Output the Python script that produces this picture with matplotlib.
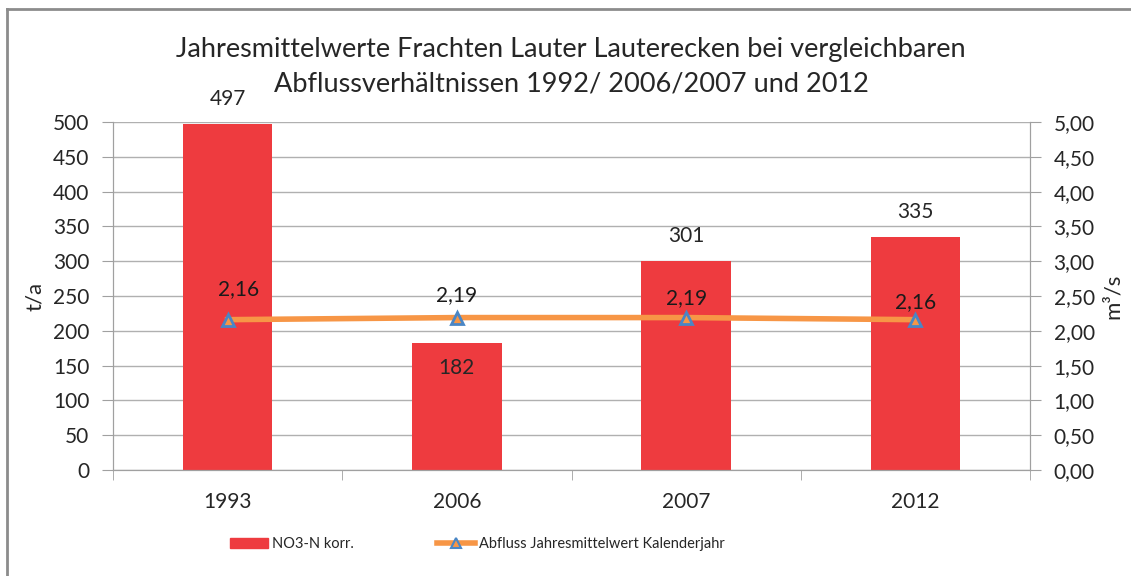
import matplotlib.pyplot as plt
from matplotlib.lines import Line2D
import numpy as np

plt.rcParams['font.family'] = ['Lato', 'DejaVu Sans']

# data
jahre = ["1993", "2006", "2007", "2012"]
no3_n = [497, 182, 301, 335]
abfluss = [2.16, 2.19, 2.19, 2.16]
titel = ["Jahresmittelwerte Frachten Lauter Lauterecken bei vergleichbaren",
         "Abflussverhältnissen 1992/ 2006/2007 und 2012"]

bar_color = "#EE3B3F"
line_color = "#F79646"
marker_edge = "#4A86C5"
text_color = "#262626"

fig = plt.figure(figsize=(11.31, 5.76), dpi=100)
ax = fig.add_axes([113 / 1131, 1 - 470 / 576, (1030 - 113) / 1131, (470 - 122) / 576])
ax2 = ax.twinx()

x = np.arange(len(jahre))
ax.bar(x, no3_n, width=0.39, color=bar_color, zorder=2)
ax.set_xlim(-0.5, len(jahre) - 0.5)
ax.set_ylim(0, 500)
ax.set_yticks(np.arange(0, 501, 50))
ax.yaxis.grid(True, color="#B0B0B0", linewidth=1.0, zorder=0)
ax.set_axisbelow(True)

# x-Ticks zwischen den Kategorien
ax.set_xticks(x)
ax.set_xticklabels(jahre)
ax.set_xticks(np.arange(-0.5, len(jahre), 1), minor=True)
ax.tick_params(axis="x", which="major", length=0, pad=16, labelsize=15, labelcolor=text_color)
ax.tick_params(axis="x", which="minor", length=7, color="#A0A0A0", direction="out")
ax.tick_params(axis="y", length=8, color="#A0A0A0", labelsize=15, labelcolor=text_color, pad=9)

ax2.plot(x, abfluss, color=line_color, linewidth=4, zorder=3,
         marker="^", markersize=9, markerfacecolor=line_color,
         markeredgecolor=marker_edge, markeredgewidth=2)
ax2.set_ylim(0, 5)
ax2.set_yticks(np.arange(0, 5.01, 0.5))
ax2.set_yticklabels([f"{v:.2f}".replace(".", ",") for v in np.arange(0, 5.01, 0.5)])
ax2.tick_params(axis="y", length=8, color="#A0A0A0", labelsize=15, labelcolor=text_color, pad=9)

for a in (ax, ax2):
    a.spines["top"].set_visible(False)
    a.spines["left"].set_color("#A0A0A0")
    a.spines["right"].set_color("#A0A0A0")
    a.spines["bottom"].set_color("#A0A0A0")

ax.set_ylabel("t/a", fontsize=16, color=text_color, labelpad=6)
ax2.set_ylabel("m³/s", fontsize=16, color=text_color, labelpad=6)

# Beschriftungen Balken
for xi, v in zip(x, no3_n):
    dy = -18 if v < 200 else 18
    ax.annotate(str(v), xy=(xi, v), xytext=(0, dy), textcoords="offset points",
                ha="center", va="center", fontsize=15, color=text_color)

# Beschriftungen Abfluss
offs = [(8, 22), (0, 16), (0, 14), (0, 13)]
for xi, v, (dx, dy) in zip(x, abfluss, offs):
    ax2.annotate(f"{v:.2f}".replace(".", ","), xy=(xi, v), xytext=(dx, dy),
                 textcoords="offset points", ha="center", va="center",
                 fontsize=15, color="#1A1A1A")

# Titel (zwei Zeilen)
fig.text(0.505, 1 - 49 / 576, titel[0], ha="center", va="center",
         fontsize=19.5, color=text_color)
fig.text(0.505, 1 - 84 / 576, titel[1], ha="center", va="center",
         fontsize=19.5, color=text_color)

# Legende (zwei Einträge getrennt platziert)
h_bar = plt.Rectangle((0, 0), 1, 1, color=bar_color)
h_line = Line2D([0], [0], color=line_color, linewidth=4, marker="^", markersize=7,
                markerfacecolor=line_color, markeredgecolor=marker_edge, markeredgewidth=1.5)
leg_kw = dict(frameon=False, fontsize=10.5, handlelength=2.6, handletextpad=0.3,
              borderpad=0, borderaxespad=0, labelcolor=text_color, loc="center left")
fig.legend([h_bar], ["NO3-N korr."], bbox_to_anchor=(230 / 1131, 1 - 544 / 576), **leg_kw)
fig.legend([h_line], ["Abfluss Jahresmittelwert Kalenderjahr"],
           bbox_to_anchor=(437 / 1131, 1 - 544 / 576), **leg_kw)

# Rahmen links und oben
fig.add_artist(Line2D([7 / 1131, 7 / 1131], [0, 1 - 9 / 576], transform=fig.transFigure,
                      color="#8C8C8C", linewidth=2))
fig.add_artist(Line2D([7 / 1131, 1], [1 - 9 / 576, 1 - 9 / 576], transform=fig.transFigure,
                      color="#8C8C8C", linewidth=2))

fig.savefig("out.png", dpi=100)
